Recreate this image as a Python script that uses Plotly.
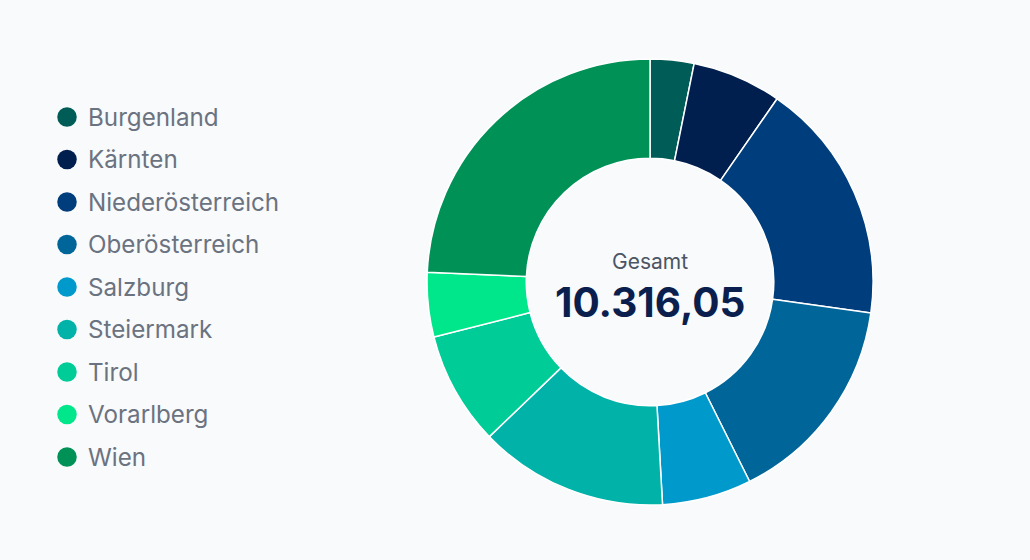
import plotly.graph_objects as go

# Werte je Bundesland (aus dem Bild geschätzt)
regions = ['Burgenland', 'Kärnten', 'Niederösterreich', 'Oberösterreich', 'Salzburg',
           'Steiermark', 'Tirol', 'Vorarlberg', 'Wien']
values = [327.40, 668.25, 1811.90, 1590.30, 668.10, 1412.75, 848.60, 482.15, 2506.60]
colors = ['#005C56', '#001E4E', '#003D7C', '#00669A', '#0099CC',
          '#00B2A8', '#00CC98', '#00E68A', '#009157']
center_label = 'Gesamt'

total = sum(values)
total_text = f'{total:,.2f}'.replace(',', 'X').replace('.', ',').replace('X', '.')

BG = '#F8FAFC'
FONT = 'Inter, Noto Sans, sans-serif'

fig = go.Figure()

# donut
fig.add_trace(go.Pie(
    labels=regions,
    values=values,
    marker=dict(colors=colors, line=dict(color='white', width=1.5)),
    hole=0.555,
    sort=False,
    direction='clockwise',
    rotation=0,
    textinfo='none',
    hoverinfo='none',
    showlegend=False,
    domain=dict(x=[0.4146, 0.8476], y=[0, 1]),
))

# legend drawn as a marker column on its own axes
fig.add_trace(go.Scatter(
    x=[0] * len(regions),
    y=list(range(len(regions))),
    mode='markers',
    marker=dict(color=colors, size=19.5, symbol='circle'),
    hoverinfo='skip',
    showlegend=False,
))
for i, name in enumerate(regions):
    fig.add_annotation(x=19, y=i, xref='x', yref='y', text=name, showarrow=False,
                       xanchor='left', yanchor='middle',
                       font=dict(family=FONT, size=24.2, color='#6B7280'))

fig.add_annotation(x=0.631, y=0.545, xref='paper', yref='paper', text=center_label,
                   showarrow=False, font=dict(family=FONT, size=21, color='#4B5563'))
fig.add_annotation(x=0.631, y=0.455, xref='paper', yref='paper', text=f'<b>{total_text}</b>',
                   showarrow=False, font=dict(family=FONT, size=40.5, color='#0B1F4E'))

fig.update_layout(
    width=1030, height=560,
    margin=dict(l=0, r=0, t=59, b=55),
    paper_bgcolor=BG,
    plot_bgcolor=BG,
    xaxis=dict(domain=[0, 0.4], range=[-67, 345], visible=False, fixedrange=True),
    yaxis=dict(range=[8 + 48 / 42.5, -58 / 42.5], visible=False, fixedrange=True),
)

fig.write_html('out.html', config={'displayModeBar': False},
               post_script="document.body.style.margin='0';document.body.style.background='%s';" % BG)
